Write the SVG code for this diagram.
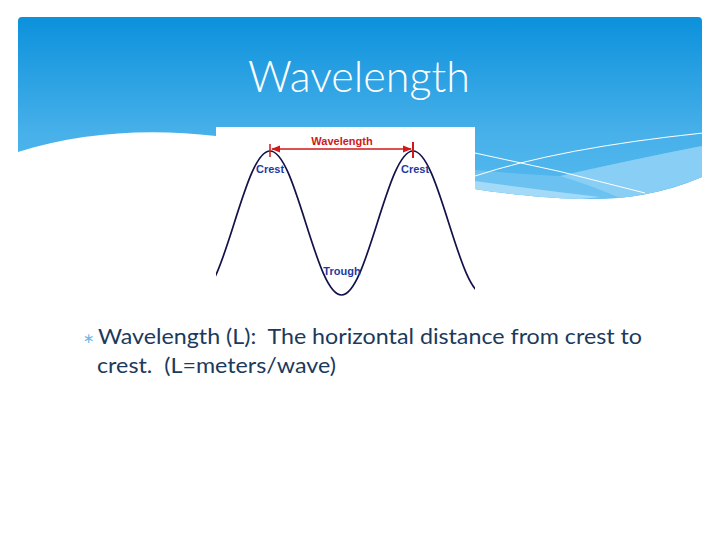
<svg xmlns="http://www.w3.org/2000/svg" width="720" height="540" viewBox="0 0 720 540">
  <style>
    .title { font-family: Lato, "Open Sans", "Liberation Sans", sans-serif; font-size: 44px; font-weight: 300; fill: #ffffff; }
    .body { font-family: Lato, "Open Sans", "Liberation Sans", sans-serif; font-size: 22px; fill: #1b3a5c; white-space: pre; }
    .bullet { font-family: "DejaVu Sans", sans-serif; font-size: 14px; fill: #6fb8e8; }
    .lbl { font-family: "Liberation Sans", Arial, sans-serif; font-size: 11px; font-weight: bold; }
    .crest { fill: #1f3aa0; }
    .red { fill: #d01818; }
    .wline { fill: none; stroke: #ffffff; stroke-width: 1; }
  </style>
  <defs>
    <linearGradient id="bg" x1="0" y1="17" x2="0" y2="200" gradientUnits="userSpaceOnUse">
      <stop offset="0" stop-color="#0c91dc"/>
      <stop offset="0.65" stop-color="#48b1ea"/>
      <stop offset="1" stop-color="#55b9ee"/>
    </linearGradient>
    <clipPath id="imgclip"><rect x="216" y="127" width="259" height="170"/></clipPath>
    <marker id="ah" viewBox="0 0 10 10" refX="9" refY="5" markerWidth="7" markerHeight="7" orient="auto-start-reverse">
      <path d="M0,1 L10,5 L0,9 Z" fill="#d01818"/>
    </marker>
  </defs>
  <rect width="720" height="540" fill="#ffffff"/>

  <g id="banner">
    <path d="M18,21 Q18,17 22,17 L698,17 Q702,17 702,21 L702,177 C660,195 620,200 580,199 C540,198 500,193 475,189 L216,136 C150,128 80,132 18,152 Z" fill="url(#bg)"/>
    <path d="M475,170 Q530,175 560,176 Q640,158 702,146 L702,177 C660,195 620,200 580,199 C540,198 500,193 475,189 Z" fill="#72c4f1" opacity="0.8"/>
    <path d="M475,181 Q540,190 600,197 L580,199 C540,198 500,193 475,189 Z" fill="#a3daf8"/>
    <path d="M560,176 Q640,158 702,146 L702,177 C670,190 640,196 620,198 Q590,185 560,176 Z" fill="#88cef5"/>
    <path class="wline" d="M475,153 Q560,170 645,193"/>
    <path class="wline" d="M475,176 Q560,148 703,133"/>
  </g>

  <g id="title">
    <text class="title" x="359" y="92" text-anchor="middle" textLength="222" lengthAdjust="spacingAndGlyphs">Wavelength</text>
  </g>

  <g id="figure">
    <rect x="216" y="127" width="259" height="170" fill="#ffffff"/>
    <path clip-path="url(#imgclip)" fill="none" stroke="#12124a" stroke-width="1.7" d="M198.5,295 C211.44,295 222.59,259.9 234.25,223 C245.91,186.1 257.06,151 270,151 C282.94,151 294.09,186.1 305.75,223 C317.41,259.9 328.56,295 341.5,295 C354.44,295 365.59,259.9 377.25,223 C388.91,186.1 400.06,151 413,151 C425.94,151 437.09,186.1 448.75,223 C460.41,259.9 471.56,295 484.5,295"/>
    <line x1="270" y1="144" x2="270" y2="157" stroke="#d01818" stroke-width="1.5"/>
    <line x1="413" y1="142" x2="413" y2="158" stroke="#d01818" stroke-width="2"/>
  </g>

  <g id="connectors">
    <line x1="272" y1="149" x2="411" y2="149" stroke="#d01818" stroke-width="1.3" marker-start="url(#ah)" marker-end="url(#ah)"/>
  </g>

  <g id="labels">
    <text class="lbl red" x="342" y="145" text-anchor="middle">Wavelength</text>
    <text class="lbl crest" x="270" y="173" text-anchor="middle">Crest</text>
    <text class="lbl crest" x="415" y="173" text-anchor="middle">Crest</text>
    <text class="lbl crest" x="342" y="275" text-anchor="middle">Trough</text>
  </g>

  <g id="body">
    <text class="bullet" x="83" y="343">∗</text>
    <text class="body" x="98" y="344" textLength="544" lengthAdjust="spacingAndGlyphs" xml:space="preserve">Wavelength (L):  The horizontal distance from crest to</text>
    <text class="body" x="97" y="373" textLength="239" lengthAdjust="spacingAndGlyphs" xml:space="preserve">crest.  (L=meters/wave)</text>
  </g>
</svg>
